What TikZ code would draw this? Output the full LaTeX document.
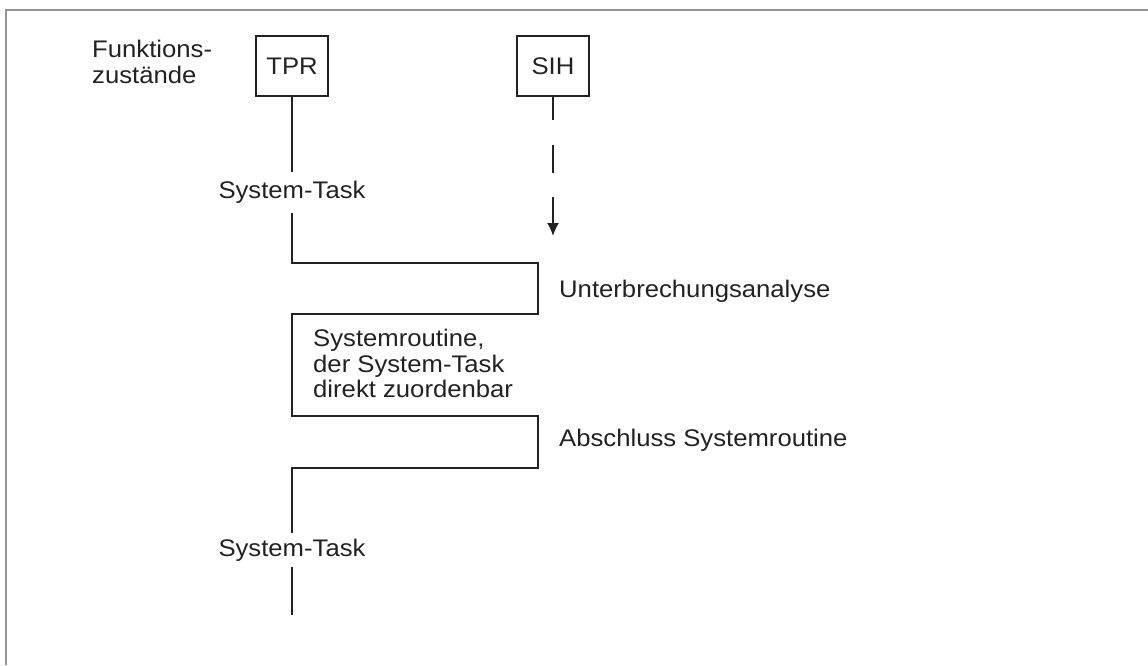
\documentclass[tikz,border=0pt]{standalone}
\usepackage{fontspec}
\setmainfont[FakeStretch=1.07]{Liberation Sans}
\usetikzlibrary{arrows.meta}
\definecolor{ink}{HTML}{222222}
\begin{document}
\begin{tikzpicture}[x=1pt,y=-1pt,
  every node/.style={font=\fontsize{24pt}{25.5pt}\selectfont, text=ink},
  statebox/.style={draw=ink, line width=1.8pt, minimum width=72pt, minimum height=60pt, inner sep=0pt},
  label/.style={inner sep=0pt, align=left},
  gapnode/.style={inner sep=0pt, minimum width=150pt},
  trace/.style={draw=ink, line width=1.8pt}]
  \useasboundingbox (0,0) rectangle (1148,665);
  % page frame
  \draw[gray!85, line width=2pt] (1148,10) -- (6,10) -- (6,665);

  % headings
  \node[label, anchor=west] (head) at (92,62) {Funktions-\\zustände};
  \node[statebox] (tpr) at (292,66) {TPR};
  \node[statebox] (sih) at (553,66) {SIH};

  % labels along the traces
  \node[gapnode, minimum height=41pt] (task1) at (292,192.5) {System-Task};
  \node[gapnode, minimum height=34pt] (task2) at (292,550) {System-Task};
  \node[label, anchor=west] (ua) at (559,291) {Unterbrechungsanalyse};
  \node[label, anchor=west] (sr) at (313,363.5) {Systemroutine,\\der System-Task\\direkt zuordenbar};
  \node[label, anchor=west] (as) at (559,440) {Abschluss Systemroutine};

  % corner points of the TPR trace
  \coordinate (c1) at (292,263);
  \coordinate (c2) at (538,263);
  \coordinate (c3) at (538,314);
  \coordinate (c4) at (292,314);
  \coordinate (c5) at (292,416);
  \coordinate (c6) at (538,416);
  \coordinate (c7) at (538,468);
  \coordinate (c8) at (292,468);
  \coordinate (tprend) at (292,615);
  \coordinate (sihend) at (553,236);

  % TPR trace
  \draw[trace] (tpr.south) -- (task1.north);
  \draw[trace] (task1.south) -- (c1) -- (c2) -- (c3) -- (c4) -- (c5) -- (c6) -- (c7) -- (c8) -- (task2.north);
  \draw[trace] (task2.south) -- (tprend);

  % SIH interrupt
  \draw[trace, dash pattern=on 23pt off 25pt on 28pt off 24pt on 80pt,
        -{Latex[length=13pt,width=12pt]}] (sih.south) -- (sihend);
\end{tikzpicture}
\end{document}
